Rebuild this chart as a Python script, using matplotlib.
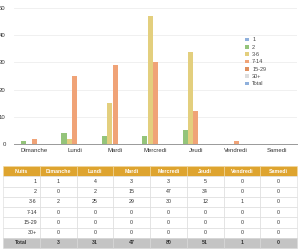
import matplotlib

matplotlib.use("Agg")

import matplotlib.pyplot as plt
import numpy as np

plt.rcParams["font.family"] = ["Liberation Sans", "DejaVu Sans"]

days = ["Dimanche", "Lundi", "Mardi", "Mercredi", "Jeudi", "Vendredi", "Samedi"]
series_names = ["1", "2", "3-6", "7-14", "15-29", "30+", "Total"]
series_colors = ["#8fb0dc", "#94c47a", "#e3cf7e", "#f0a377", "#df8f5e", "#dddddd", "#8fb0dc"]

# values as drawn in the chart (one list per legend entry)
chart_1 = [0, 0, 0, 0, 0, 0, 0]
chart_2 = [1, 4, 3, 3, 5, 0, 0]
chart_3_6 = [0, 2, 15, 47, 34, 0, 0]
chart_7_14 = [2, 25, 29, 30, 12, 1, 0]
chart_15_29 = [0, 0, 0, 0, 0, 0, 0]
chart_30 = [0, 0, 0, 0, 0, 0, 0]
chart_total = [0, 0, 0, 0, 0, 0, 0]

# table rows
row_labels = ["1", "2", "3-6", "7-14", "15-29", "30+", "Total"]
table_1 = [1, 4, 3, 3, 5, 0, 0]
table_2 = [0, 2, 15, 47, 34, 0, 0]
table_3_6 = [2, 25, 29, 30, 12, 1, 0]
table_7_14 = [0, 0, 0, 0, 0, 0, 0]
table_15_29 = [0, 0, 0, 0, 0, 0, 0]
table_30 = [0, 0, 0, 0, 0, 0, 0]
table_total = [3, 31, 47, 80, 51, 1, 0]

chart_series = [chart_1, chart_2, chart_3_6, chart_7_14, chart_15_29, chart_30, chart_total]
table_rows = [table_1, table_2, table_3_6, table_7_14, table_15_29, table_30, table_total]

fig = plt.figure(figsize=(3.0, 2.49), dpi=100)

ax = fig.add_axes([14 / 300, 105 / 249, 283 / 300, 136 / 249])
x = np.arange(len(days))
width = 0.132
for i, (name, values, color) in enumerate(zip(series_names, chart_series, series_colors)):
    ax.bar(x + (i - 3) * width, values, width=width * 0.95, color=color, label=name, zorder=2)

ax.set_xlim(-0.5, len(days) - 0.5)
ax.set_ylim(0, 50)
ax.set_yticks(range(0, 51, 10))
ax.set_xticks(x, labels=days)
ax.tick_params(axis="both", length=0, labelsize=4.3, colors="#333333")
ax.tick_params(axis="y", pad=6)
ax.tick_params(axis="x", pad=3)
ax.grid(axis="y", color="#eeeeee", linewidth=0.6, zorder=0)
for side in ["top", "right", "left"]:
    ax.spines[side].set_visible(False)
ax.spines["bottom"].set_color("#999999")
ax.spines["bottom"].set_linewidth(0.7)

legend = ax.legend(
    loc="upper left",
    bbox_to_anchor=(0.81, 0.8),
    frameon=False,
    fontsize=4.0,
    handlelength=0.7,
    handleheight=0.7,
    handletextpad=0.5,
    labelspacing=0.42,
    borderaxespad=0,
)
for text in legend.get_texts():
    text.set_color("#444444")

tax = fig.add_axes([3 / 300, 1 / 249, 294 / 300, 82 / 249])
tax.axis("off")
cell_text = [[label] + [str(v) for v in row] for label, row in zip(row_labels, table_rows)]
table = tax.table(
    cellText=cell_text,
    colLabels=["Nuits"] + days,
    bbox=[0, 0, 1, 1],
    cellLoc="center",
)
table.auto_set_font_size(False)
n_rows = len(cell_text) + 1
for (r, c), cell in table.get_celld().items():
    cell.set_edgecolor("#d8d8d8")
    cell.set_linewidth(0.4)
    text = cell.get_text()
    text.set_fontsize(3.8)
    text.set_color("#333333")
    if r == 0:
        cell.set_facecolor("#dea42f")
        cell.set_edgecolor("#f2d9a0")
        text.set_color("white")
        text.set_fontweight("bold")
    elif r == n_rows - 1:
        cell.set_facecolor("#c4c4c4")
        text.set_fontweight("bold")
    else:
        cell.set_facecolor("white")
        if c == 0:
            text.set_horizontalalignment("right")
            cell.PAD = 0.08

fig.savefig("out.png", dpi=100)
